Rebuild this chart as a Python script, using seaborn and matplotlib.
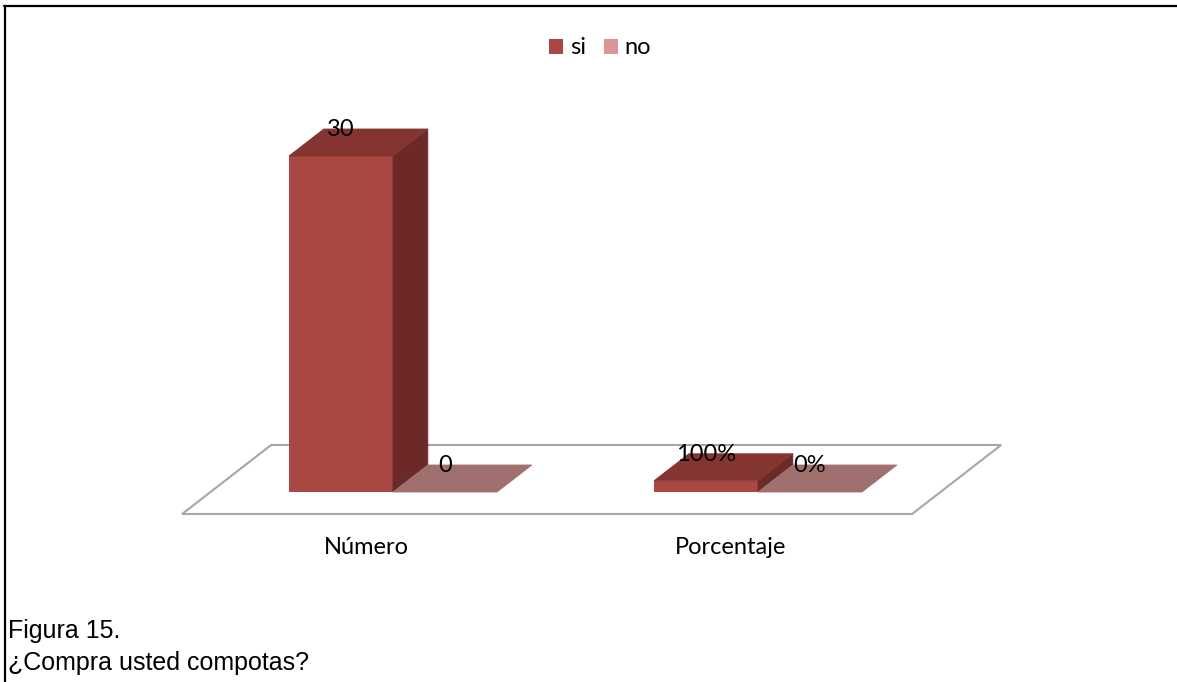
import matplotlib
matplotlib.use("Agg")
import matplotlib.pyplot as plt
from matplotlib.patches import Polygon
from matplotlib.lines import Line2D
from matplotlib.transforms import offset_copy
import numpy as np
import pandas as pd
import seaborn as sns

# ---- data -----------------------------------------------------------------
categorias = ["Número", "Porcentaje"]
respuestas = ["si", "no"]
valores_si = [30, 1.0]
valores_no = [0, 0.0]
formatos = ["{:.0f}", "{:.0%}"]          # label format per category

titulo_figura = "Figura 15."
pregunta = "¿Compra usted compotas?"

# ---- colours for the three visible faces of each pseudo-3D bar -----------
color_frente = {"si": "#A94843", "no": "#D99694"}
color_lado = {"si": "#6B2A28", "no": "#8A5F5E"}
color_tapa = {"si": "#843532", "no": "#A0706F"}

df = pd.DataFrame({
    "categoria": categorias * 2,
    "respuesta": ["si"] * len(categorias) + ["no"] * len(categorias),
    "valor": valores_si + valores_no,
})

sns.set_style("white")
plt.rcParams["font.family"] = ["Lato", "DejaVu Sans"]
plt.rcParams["text.color"] = "black"

W, H = 1177, 682
fig = plt.figure(figsize=(W / 100, H / 100), dpi=100)
ax = fig.add_axes([210.5 / W, 190 / H, 730 / W, 336 / H])

sns.barplot(data=df, x="categoria", y="valor", hue="respuesta",
            order=categorias, hue_order=respuestas, palette=color_frente,
            saturation=1, width=0.57, errorbar=None, edgecolor="none",
            linewidth=0, ax=ax, zorder=3)

ax.set_xlim(-0.5, len(categorias) - 0.5)
ax.set_ylim(0, 30)
ax.axis("off")

# depth direction of the oblique projection (pixels right per pixel up)
PEND = 89 / 69
PROF_BARRA = 27          # bar depth, px
PROF_FRENTE = 22         # floor in front of bars, px
PROF_FONDO = 47          # floor behind bars, px


def px(x, y):
    return np.asarray(ax.transData.transform((x, y)))


def prof(d):
    return np.array([PEND * d, d])


def poligono(puntos, color, z, lw=0.6, edge=None):
    p = Polygon(np.array(puntos), closed=True, transform=None, facecolor=color,
                edgecolor=edge if edge is not None else color, linewidth=lw,
                zorder=z, clip_on=False)
    ax.add_artist(p)


# floor plane
x_min, x_max = ax.get_xlim()
a, b = px(x_min, 0), px(x_max, 0)
poligono([a - prof(PROF_FRENTE), b - prof(PROF_FRENTE),
          b + prof(PROF_FONDO), a + prof(PROF_FONDO)],
         "white", 1, lw=1.5, edge="#A6A6A6")

# side and top faces + value labels
etiqueta_tr = offset_copy(ax.transData, fig=fig, x=0, y=26, units="dots")
for bar in list(ax.patches):
    if not hasattr(bar, "get_width") or bar.get_width() <= 0:
        continue
    x0, w, h = bar.get_x(), bar.get_width(), bar.get_height()
    xc = x0 + w / 2
    i = int(round(xc))
    resp = "si" if xc < i else "no"
    d = prof(PROF_BARRA)
    fl, fr = px(x0, 0), px(x0 + w, 0)
    tl, tr = px(x0, h), px(x0 + w, h)
    if h > 0:
        poligono([fr, fr + d, tr + d, tr], color_lado[resp], 3)
    poligono([tl, tr, tr + d, tl + d], color_tapa[resp], 3)
    ax.text(xc, h, formatos[i].format(h), transform=etiqueta_tr,
            ha="center", va="center", fontsize=17, color="black", zorder=6)

# category labels below the floor
cat_tr = offset_copy(ax.transData, fig=fig, x=-27, y=-56, units="dots")
for i, cat in enumerate(categorias):
    ax.text(i, 0, cat, transform=cat_tr, ha="center", va="center",
            fontsize=17, color="black")

sns.move_legend(ax, "center", bbox_to_anchor=(600 / W, 1 - 48 / H),
                bbox_transform=fig.transFigure, ncol=2, frameon=False,
                title="", fontsize=17, handlelength=0.6, handleheight=0.6,
                handletextpad=0.3, columnspacing=0.75, labelcolor="black")

# caption
fig.text(8 / W, 44 / H, titulo_figura, family="Liberation Sans",
         fontsize=18, va="baseline", ha="left", color="black")
fig.text(8 / W, 12 / H, pregunta, family="Liberation Sans",
         fontsize=18, va="baseline", ha="left", color="black")

# frame lines
fig.add_artist(Line2D([4 / W, 1], [1 - 6 / H, 1 - 6 / H], color="black",
                      linewidth=1.6, transform=fig.transFigure))
fig.add_artist(Line2D([5 / W, 5 / W], [0, 1 - 6 / H], color="black",
                      linewidth=1.6, transform=fig.transFigure))

fig.savefig("out.png", dpi=100, facecolor="white")
